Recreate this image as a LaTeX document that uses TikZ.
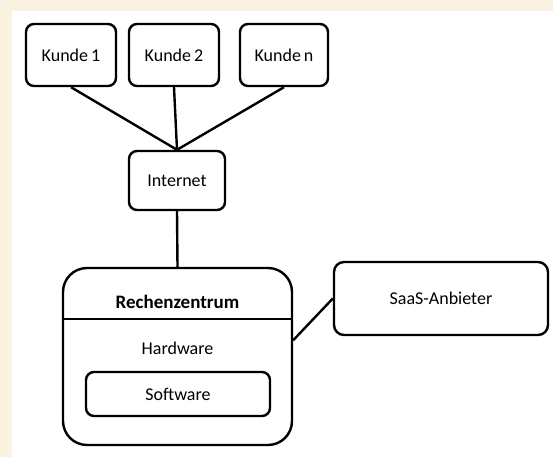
\documentclass[tikz,border=0pt]{standalone}
\usepackage{fontspec}
\setmainfont{Carlito}
\definecolor{cream}{HTML}{FBF3E2}
\begin{document}
\begin{tikzpicture}[x=1pt,y=-1pt,
  box/.style={draw=black,line width=2.4pt,rounded corners=8pt,fill=white,inner sep=0pt,font=\fontsize{18}{20}\selectfont},
  conn/.style={line width=2.4pt,draw=black},
  lbl/.style={inner sep=0pt,font=\fontsize{18}{20}\selectfont}]
\fill[cream] (0,0) rectangle (553,457);
\fill[white] (12,11) rectangle (553,457);
\useasboundingbox (0,0) rectangle (553,457);
\node[box,minimum width=90pt,minimum height=62pt] (k1) at (71,55) {Kunde\,1};
\node[box,minimum width=90pt,minimum height=62pt] (k2) at (174,55) {Kunde\,2};
\node[box,minimum width=88pt,minimum height=62pt] (kn) at (284,55) {Kunde\,n};
\node[box,minimum width=96pt,minimum height=59pt] (inet) at (177,180.5) {Internet};
\node[box,rounded corners=24pt,minimum width=229pt,minimum height=177pt] (rz) at (177.5,356.5) {};
\node[lbl,font=\fontsize{19}{21}\selectfont\bfseries] (rzt) at (177.5,302) {Rechenzentrum};
\coordinate (divl) at (63,319);
\coordinate (divr) at (292,319);
\draw[conn] (divl) -- (divr);
\node[lbl] (hw) at (177.5,348) {Hardware};
\node[box,minimum width=184pt,minimum height=44pt] (sw) at (178,394) {Software};
\node[box,rounded corners=10pt,minimum width=214pt,minimum height=73pt] (saas) at (441,298.5) {SaaS-Anbieter};
\draw[conn] (k1.south) -- (inet.north);
\draw[conn] (k2.south) -- (inet.north);
\draw[conn] (kn.south) -- (inet.north);
\draw[conn] (inet.south) -- (rz.north);
\draw[conn] (rz.8) -- (saas.west);
\end{tikzpicture}
\end{document}
